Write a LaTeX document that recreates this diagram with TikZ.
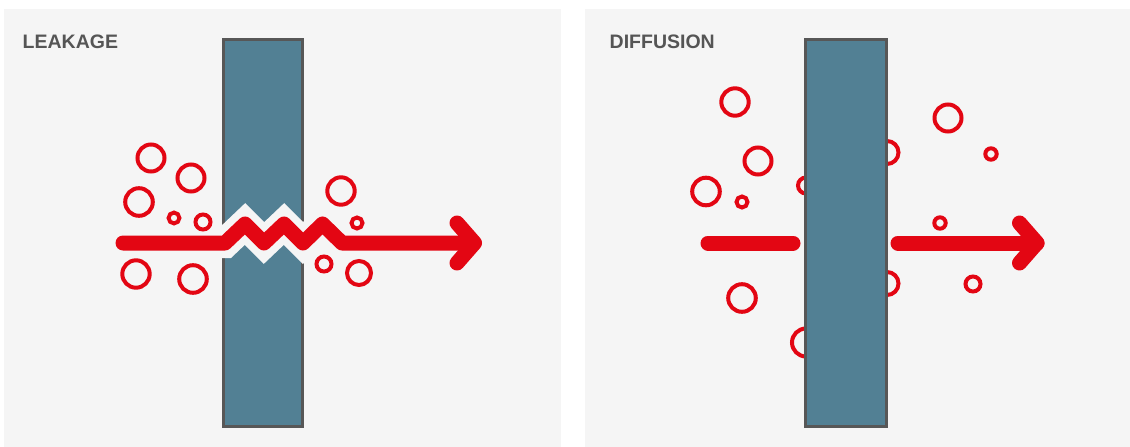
\documentclass[tikz,border=0pt]{standalone}
\usepackage{fontspec}
\setmainfont{Liberation Sans}
\definecolor{panelgray}{HTML}{F5F5F5}
\definecolor{leakred}{HTML}{E30613}
\definecolor{wallblue}{RGB}{82,128,148}
\definecolor{wallgray}{HTML}{575757}
\definecolor{titlegray}{HTML}{555555}
\begin{document}
\begin{tikzpicture}[x=1pt,y=-1pt,
  panel/.style={fill=panelgray,draw=none},
  bubble/.style={draw=leakred,line width=4pt,fill=none},
  wall/.style={fill=wallblue,draw=wallgray,line width=3pt},
  flow/.style={draw=leakred,line width=15pt,line cap=round,line join=round},
  crack/.style={draw=panelgray,line width=30pt,line join=miter,miter limit=10},
  title/.style={font=\bfseries\fontsize{19.5}{20}\selectfont,text=titlegray,
    anchor=base west,inner sep=0pt}]

% canvas and the two panels
\useasboundingbox (0,0) rectangle (1130,447);
\fill[white] (0,0) rectangle (1130,447);
\fill[panel] (4,9) rectangle (561,447);
\fill[panel] (585,9) rectangle (1130,447);

% ---------- left panel: leakage through a crack ----------
\node[title] (leaktitle) at (22.5,48.3) {LEAKAGE};

% molecules
\draw[bubble] (151,158) circle (13.5);
\draw[bubble] (191,178) circle (13.5);
\draw[bubble] (139,202) circle (13.8);
\draw[bubble] (174,218) circle (5.4);
\draw[bubble] (203,222) circle (7.5);
\draw[bubble] (136,274) circle (13.7);
\draw[bubble] (193,279) circle (13.8);
\draw[bubble] (341,191) circle (13.7);
\draw[bubble] (357,223) circle (5.5);
\draw[bubble] (324,264) circle (7.5);
\draw[bubble] (359,273) circle (12);

% wall with a zigzag crack
\draw[wall] (223.5,39.5) rectangle (302.5,426.5);
\begin{scope}
  \clip (221,37) rectangle (305,429);
  \draw[crack] (200,243) -- (225,243) -- (245,224) -- (264,243) -- (284,224)
    -- (303,243) -- (322.5,224) -- (342,243) -- (360,243);
\end{scope}

% flow through the crack
\draw[flow] (123,243) -- (225,243) -- (245,224) -- (264,243) -- (284,224)
  -- (303,243) -- (322.5,224) -- (342,243) -- (474,243);
\draw[flow] (457,223) -- (474.5,243) -- (457,263);

% ---------- right panel: diffusion through the wall ----------
\node[title] (difftitle) at (609.5,48.3) {DIFFUSION};

% molecules (some sit partly inside the wall)
\draw[bubble] (735,102) circle (13.7);
\draw[bubble] (758,161) circle (13.5);
\draw[bubble] (706,191.5) circle (13.8);
\draw[bubble] (742,202) circle (5.5);
\draw[bubble] (806,185.5) circle (8);
\draw[bubble] (742,298) circle (13.8);
\draw[bubble] (806,342.5) circle (14);
\draw[bubble] (887,152.5) circle (11.5);
\draw[bubble] (887,283.5) circle (11.5);
\draw[bubble] (948,118) circle (13.5);
\draw[bubble] (991,154) circle (5.7);
\draw[bubble] (940,223) circle (5.7);
\draw[bubble] (973,284) circle (7.5);

% intact wall
\draw[wall] (805.5,39.5) rectangle (886.5,426.5);

% flow interrupted by the wall
\draw[flow] (708,243) -- (793,243);
\draw[flow] (898,243) -- (1037,243);
\draw[flow] (1019.5,223) -- (1037,243) -- (1019.5,263);

\end{tikzpicture}
\end{document}
